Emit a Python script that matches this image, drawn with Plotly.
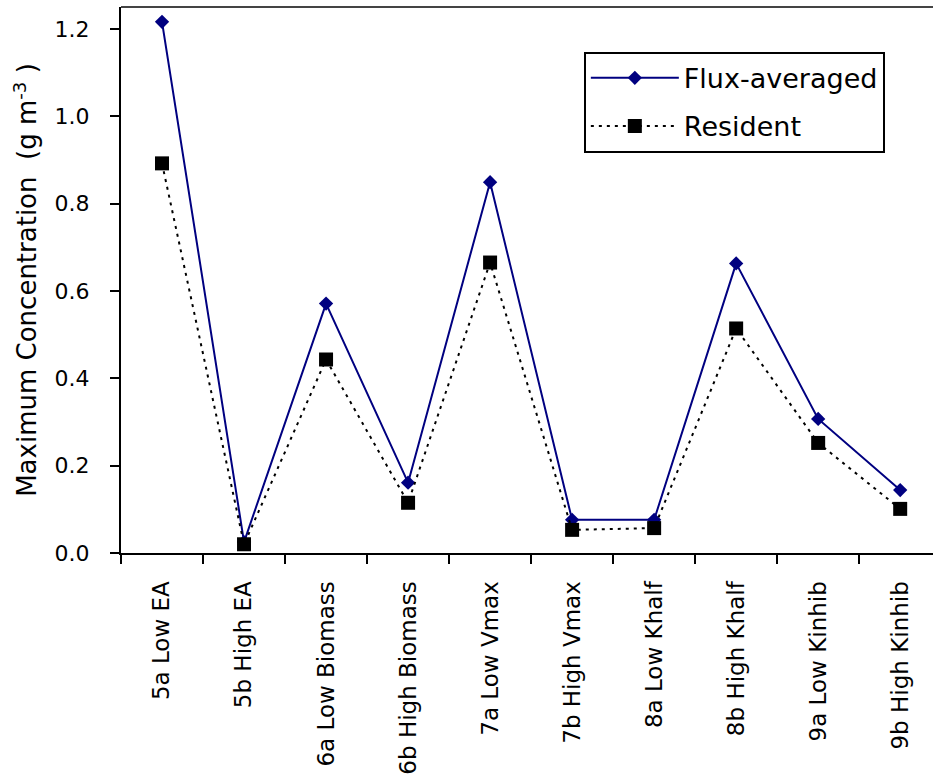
import plotly.graph_objects as go

categories = ["5a Low EA", "5b High EA", "6a Low Biomass", "6b High Biomass",
              "7a Low Vmax", "7b High Vmax", "8a Low Khalf", "8b High Khalf",
              "9a Low Kinhib", "9b High Kinhib"]
flux_averaged = [1.216, 0.025, 0.571, 0.161, 0.849, 0.076, 0.076, 0.663, 0.307, 0.144]
resident = [0.892, 0.020, 0.443, 0.115, 0.665, 0.053, 0.057, 0.514, 0.252, 0.101]
y_ticks = [0.0, 0.2, 0.4, 0.6, 0.8, 1.0, 1.2]

FONT = "DejaVu Sans"

fig = go.Figure()
fig.add_trace(go.Scatter(
    x=categories, y=flux_averaged, name="Flux-averaged", mode="lines+markers",
    line=dict(color="#000080", width=2),
    marker=dict(symbol="diamond", size=11, color="#000080", line=dict(width=0)),
    legendgroup="a",
))
fig.add_trace(go.Scatter(
    x=categories, y=resident, name="Resident", mode="lines+markers",
    line=dict(color="black", width=2, dash="3px,5px"),
    marker=dict(symbol="square", size=14, color="black", line=dict(width=0)),
    legendgroup="b",
))

fig.update_layout(
    width=933, height=779,
    margin=dict(l=121, r=0, t=7, b=226),
    paper_bgcolor="white", plot_bgcolor="white",
    font=dict(family=FONT, color="black"),
    showlegend=True,
    legend=dict(
        x=0.570, y=0.918, xanchor="left", yanchor="top",
        bgcolor="white", bordercolor="black", borderwidth=2,
        font=dict(family=FONT, size=27, color="black"),
        tracegroupgap=10, itemwidth=88,
    ),
    xaxis=dict(
        type="category", range=[-0.5, 9.4],
        showline=True, linecolor="black", linewidth=2,
        ticks="outside", ticklen=9, tickwidth=1.5, tickcolor="black",
        tickson="boundaries", tickangle=-90,
        tickfont=dict(family=FONT, size=23, color="black"),
        ticklabelstandoff=17,
        showgrid=False, zeroline=False,
    ),
    yaxis=dict(
        range=[0, 1.25], tickvals=y_ticks, tickformat=".1f",
        showline=True, linecolor="black", linewidth=2,
        ticks="outside", ticklen=9, tickwidth=1.5, tickcolor="black",
        tickfont=dict(family=FONT, size=22, color="black"),
        ticklabelstandoff=16,
        showgrid=False, zeroline=False,
        title=dict(text="Maximum Concentration  (g m<sup>-3</sup> )",
                   font=dict(family=FONT, size=26, color="black"), standoff=10),
    ),
    shapes=[dict(type="line", xref="paper", yref="paper", x0=0, x1=1, y0=1, y1=1,
                 line=dict(color="#444444", width=2))],
)

fig.write_html("out.html")
